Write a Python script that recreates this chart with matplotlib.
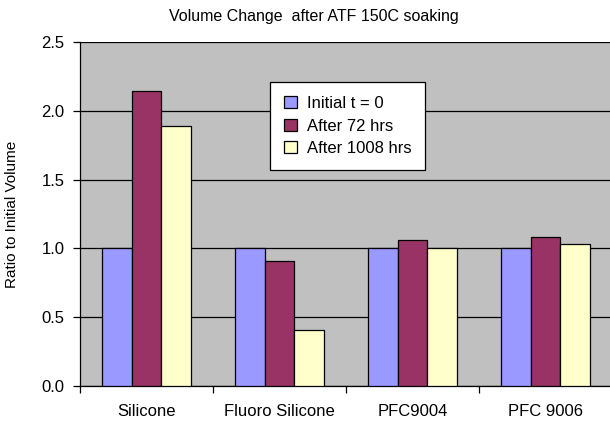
import matplotlib.pyplot as plt
import numpy as np

plt.rcParams['font.family'] = ['Liberation Sans', 'DejaVu Sans']

categories = ["Silicone", "Fluoro Silicone", "PFC9004", "PFC 9006"]
initial = [1.0, 1.0, 1.0, 1.0]
after_72 = [2.146, 0.91, 1.06, 1.083]
after_1008 = [1.89, 0.41, 1.0, 1.03]
series_names = ["Initial t = 0", "After 72 hrs", "After 1008 hrs"]
colors = ["#9999FF", "#993366", "#FFFFCC"]

W, H = 610, 422
fig = plt.figure(figsize=(W / 100, H / 100), dpi=100)
ax = fig.add_axes([80 / W, (H - 386) / H, 532 / W, (386 - 42) / H])
ax.set_facecolor("#C0C0C0")

x = np.arange(len(categories))
w = 1 / 4.5
handles = []
for i, (vals, name, c) in enumerate(zip([initial, after_72, after_1008], series_names, colors)):
    b = ax.bar(x + (i - 1) * w, vals, width=w, color=c, edgecolor="black",
               linewidth=0.9, label=name, zorder=3)
    handles.append(b)

ax.set_xlim(-0.5, len(categories) - 0.5)
ax.set_ylim(0, 2.5)
ax.set_yticks(np.arange(0, 2.51, 0.5))
ax.set_yticklabels([f"{v:.1f}" for v in np.arange(0, 2.51, 0.5)], fontsize=12)
ax.yaxis.grid(True, color="black", linewidth=0.9, zorder=1)
ax.set_axisbelow(True)

ax.set_xticks(x)
ax.set_xticklabels(categories, fontsize=12)
ax.tick_params(axis="x", length=0, pad=13)
ax.set_xticks(np.arange(-0.5, len(categories)), minor=True)
ax.tick_params(axis="x", which="minor", length=5, width=0.9, direction="out")
ax.tick_params(axis="y", length=5, width=0.9, direction="out", pad=6)

for s in ["top", "right"]:
    ax.spines[s].set_visible(False)
for s in ["left", "bottom"]:
    ax.spines[s].set_linewidth(0.9)

ax.set_ylabel("Ratio to Initial Volume", fontsize=11, labelpad=16)
fig.text(314 / W, 1 - 17 / H, "Volume Change  after ATF 150C soaking",
         ha="center", va="center", fontsize=11.5)

leg = ax.legend(handles=handles, loc="upper left",
                bbox_to_anchor=(270 / W, 1 - 82 / H), bbox_transform=fig.transFigure,
                fontsize=12, fancybox=False, framealpha=1, edgecolor="black",
                handlelength=0.75, handleheight=0.75, handletextpad=0.6,
                borderpad=0.85, labelspacing=0.45, borderaxespad=0)
leg.get_frame().set_linewidth(0.9)

fig.savefig("out.png", dpi=100)
